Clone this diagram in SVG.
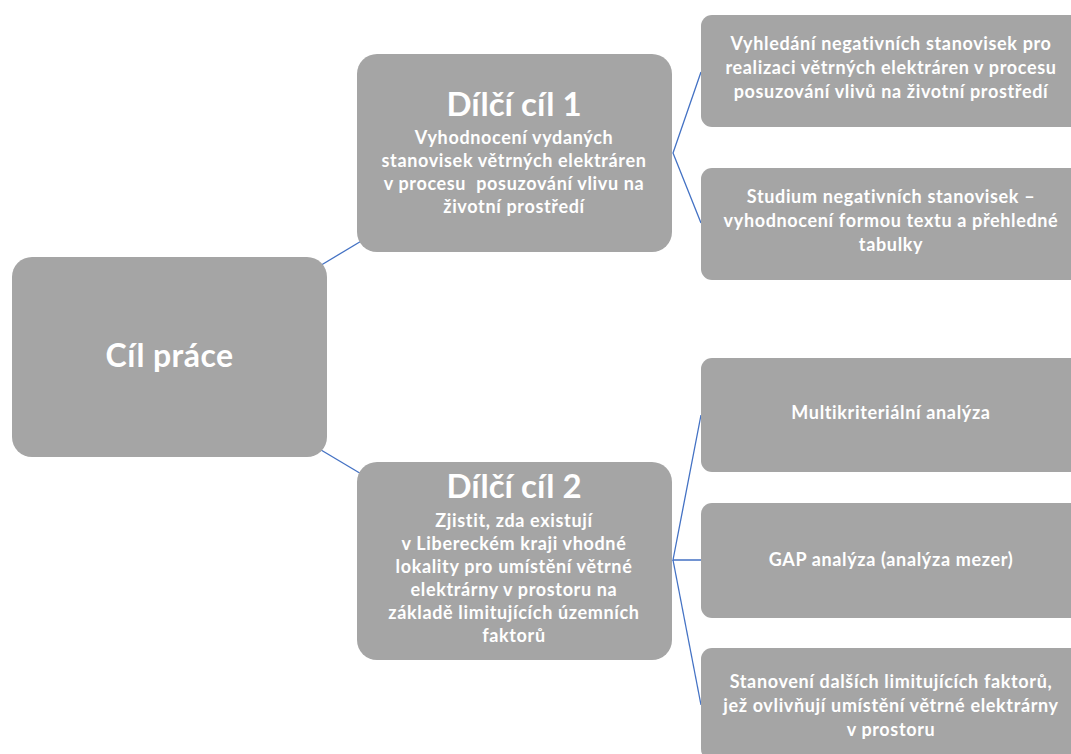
<svg xmlns="http://www.w3.org/2000/svg" width="1071" height="754" viewBox="0 0 1071 754">
<style>
.box{fill:#a5a5a5}
.t{font-family:Lato,"Open Sans","Liberation Sans",sans-serif;font-weight:bold;fill:#ffffff;text-anchor:middle}
.b{font-size:18px;letter-spacing:0.65px}
.h{font-size:33px}
.r{font-size:32px;letter-spacing:0.4px}
.ln{stroke:#4472c4;stroke-width:1.3;fill:none}
</style>
<rect width="1071" height="754" fill="#ffffff"/>
<g id="connectors">
<line class="ln" x1="318" y1="267" x2="363" y2="240"/>
<line class="ln" x1="316" y1="447" x2="363" y2="475"/>
<polyline class="ln" points="701,72 673,153 701,223"/>
<polyline class="ln" points="701,415 673,560 701,560"/>
<line class="ln" x1="673" y1="560" x2="701" y2="705"/>
</g>
<g id="root">
<rect class="box" x="12" y="257" width="315" height="200" rx="20"/>
<text class="t r" x="169.5" y="367">Cíl práce</text>
</g>
<g id="goal1">
<rect class="box" x="357" y="54" width="315" height="198" rx="20"/>
<text class="t h" x="514" y="116">Dílčí cíl 1</text>
<text class="t b" x="514" y="144">Vyhodnocení vydaných</text>
<text class="t b" x="514" y="167">stanovisek větrných elektráren</text>
<text class="t b" x="514" y="190" xml:space="preserve">v procesu  posuzování vlivu na</text>
<text class="t b" x="514" y="213">životní prostředí</text>
</g>
<g id="goal2">
<rect class="box" x="357" y="462" width="315" height="198" rx="20"/>
<text class="t h" x="514" y="498">Dílčí cíl 2</text>
<text class="t b" x="514" y="527">Zjistit, zda existují</text>
<text class="t b" x="514" y="550">v Libereckém kraji vhodné</text>
<text class="t b" x="514" y="573">lokality pro umístění větrné</text>
<text class="t b" x="514" y="596">elektrárny v prostoru na</text>
<text class="t b" x="514" y="619">základě limitujících územních</text>
<text class="t b" x="514" y="642">faktorů</text>
</g>
<g id="task1">
<rect class="box" x="701" y="15" width="380" height="112" rx="11"/>
<text class="t b" x="891" y="50">Vyhledání negativních stanovisek pro</text>
<text class="t b" x="891" y="74">realizaci větrných elektráren v procesu</text>
<text class="t b" x="891" y="98">posuzování vlivů na životní prostředí</text>
</g>
<g id="task2">
<rect class="box" x="701" y="168" width="380" height="112" rx="11"/>
<text class="t b" x="891" y="203">Studium negativních stanovisek –</text>
<text class="t b" x="891" y="227">vyhodnocení formou textu a přehledné</text>
<text class="t b" x="891" y="251">tabulky</text>
</g>
<g id="task3">
<rect class="box" x="701" y="358" width="380" height="114" rx="11"/>
<text class="t b" x="891" y="419">Multikriteriální analýza</text>
</g>
<g id="task4">
<rect class="box" x="701" y="503" width="380" height="115" rx="11"/>
<text class="t b" x="891" y="566">GAP analýza (analýza mezer)</text>
</g>
<g id="task5">
<rect class="box" x="701" y="648" width="380" height="112" rx="11"/>
<text class="t b" x="891" y="688">Stanovení dalších limitujících faktorů,</text>
<text class="t b" x="891" y="712">jež ovlivňují umístění větrné elektrárny</text>
<text class="t b" x="891" y="736">v prostoru</text>
</g>
</svg>
